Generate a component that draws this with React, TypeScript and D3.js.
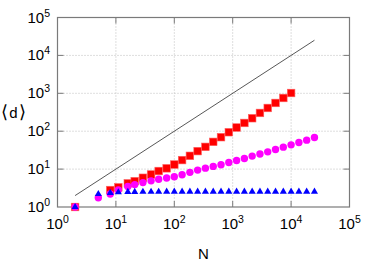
import React from "react";
import * as d3 from "d3";

const W = 374;
const H = 266;

const xTicks = [1, 10, 100, 1000, 10000, 100000];
const yTicks = [1, 10, 100, 1000, 10000, 100000];
const tickExps = ["0", "1", "2", "3", "4", "5"];

const redN = [2, 8, 11, 16, 21, 29, 40, 54, 74, 100, 136, 185, 251, 341, 464, 631, 858, 1166, 1585, 2154, 2929, 3981, 5412, 7356, 10000];
const redD = [1, 2.8, 3.3, 4.2, 4.8, 5.9, 7.2, 8.9, 10.5, 13.2, 17.3, 22.4, 29.8, 38.6, 52.3, 69.5, 94, 125, 165, 220, 303, 410, 556, 752, 1018];

const magN = [2, 5, 8, 11, 16, 21, 29, 40, 54, 74, 100, 136, 185, 251, 341, 464, 631, 858, 1166, 1585, 2154, 2929, 3981, 5412, 7356, 10000, 13594, 18478, 25119];
const magD = [1, 1.76, 2.2, 2.8, 3.5, 3.9, 4.4, 4.9, 5.4, 5.8, 6.3, 7.1, 8.2, 9.4, 10.6, 11.8, 13.0, 15.0, 16.9, 19.1, 22, 25, 28.5, 33, 37.9, 43.6, 50.4, 58, 68];

const blueN = [2, 5, 8, 11, 16, 21, 29, 40, 54, 74, 100, 136, 185, 251, 341, 464, 631, 858, 1166, 1585, 2154, 2929, 3981, 5412, 7356, 10000, 13594, 18478, 25119];
const blueD = [1, 2.2, 2.35, 2.45, 2.5, 2.5, 2.52, 2.52, 2.52, 2.53, 2.53, 2.53, 2.53, 2.53, 2.53, 2.53, 2.53, 2.53, 2.53, 2.53, 2.53, 2.53, 2.53, 2.53, 2.53, 2.53, 2.53, 2.53, 2.53];

const lineN = [2, 25119];

const FONT = "'Liberation Sans', Arial, sans-serif";
const CJK = "'Noto Sans CJK JP', 'DejaVu Sans', sans-serif";

export default function App() {
  const left = 57.5, right = 349.5, top = 17.5, bottom = 207;
  const x = d3.scaleLog().domain([1, 1e5]).range([left, right]);
  const y = d3.scaleLog().domain([1, 1e5]).range([bottom, top]);
  const line = d3.line<number>().x((n) => x(n)).y((n) => y(n));
  const tri = d3.symbol().type(d3.symbolTriangle).size(22)() as string;
  const gridColor = "#bdbdbd";
  const axisColor = "#7a7a7a";
  const tickLen = 6;
  const midY = (top + bottom) / 2;

  return (
    <svg width={W} height={H} style={{ position: "absolute", left: 0, top: 0, background: "#fff" }} fontFamily={FONT}>
      {/* grid */}
      {xTicks.slice(1, -1).map((t, i) => (
        <line key={"gx" + i} x1={x(t)} x2={x(t)} y1={top} y2={bottom} stroke={gridColor} strokeWidth={1} strokeDasharray="1,2" />
      ))}
      {yTicks.slice(1, -1).map((t, i) => (
        <line key={"gy" + i} x1={left} x2={right} y1={y(t)} y2={y(t)} stroke={gridColor} strokeWidth={1} strokeDasharray="1,2" />
      ))}
      {/* ticks */}
      {xTicks.slice(1, -1).map((t, i) => (
        <g key={"tx" + i} stroke={axisColor} strokeWidth={1}>
          <line x1={x(t)} x2={x(t)} y1={bottom} y2={bottom - tickLen} />
          <line x1={x(t)} x2={x(t)} y1={top} y2={top + tickLen} />
        </g>
      ))}
      {yTicks.slice(1, -1).map((t, i) => (
        <g key={"ty" + i} stroke={axisColor} strokeWidth={1}>
          <line x1={left} x2={left + tickLen} y1={y(t)} y2={y(t)} />
          <line x1={right} x2={right - tickLen} y1={y(t)} y2={y(t)} />
        </g>
      ))}
      {/* frame */}
      <rect x={left} y={top} width={right - left} height={bottom - top} fill="none" stroke={axisColor} strokeWidth={1.2} />
      {/* d = N line */}
      <path d={line(lineN) as string} fill="none" stroke="#444" strokeWidth={0.9} />
      {/* red squares */}
      {redN.map((n, i) => (
        <rect key={"r" + i} x={x(n) - 3.8} y={y(redD[i]) - 3.8} width={7.6} height={7.6} fill="#ff0000" stroke="#ff6060" strokeWidth={0.6} />
      ))}
      {/* magenta circles */}
      {magN.map((n, i) => (
        <circle key={"m" + i} cx={x(n)} cy={y(magD[i])} r={3.7} fill="#ff00ff" />
      ))}
      {/* blue triangles */}
      {blueN.map((n, i) => (
        <path key={"b" + i} d={tri} transform={`translate(${x(n)},${y(blueD[i])})`} fill="#0000ff" />
      ))}
      {/* x tick labels */}
      {xTicks.map((t, i) => (
        <text key={"xl" + i} x={x(t)} y={228.5} textAnchor="middle" fontSize={15} fill="#000">
          10<tspan fontSize={10.5} dy={-6}>{tickExps[i]}</tspan>
        </text>
      ))}
      {/* y tick labels */}
      {yTicks.map((t, i) => (
        <text key={"yl" + i} x={50} y={y(t) + 5} textAnchor="end" fontSize={15} fill="#000">
          10<tspan fontSize={10.5} dy={-6}>{tickExps[i]}</tspan>
        </text>
      ))}
      {/* axis titles */}
      <text x={(left + right) / 2} y={258.5} textAnchor="middle" fontSize={15} fill="#000">N</text>
      <text x={4.5} y={midY + 6} textAnchor="middle" fontSize={18} fill="#000" fontFamily={CJK}>⟨</text>
      <text x={13.5} y={midY + 5.5} textAnchor="middle" fontSize={15} fill="#000">d</text>
      <text x={22.5} y={midY + 6} textAnchor="middle" fontSize={18} fill="#000" fontFamily={CJK}>⟩</text>
    </svg>
  );
}
